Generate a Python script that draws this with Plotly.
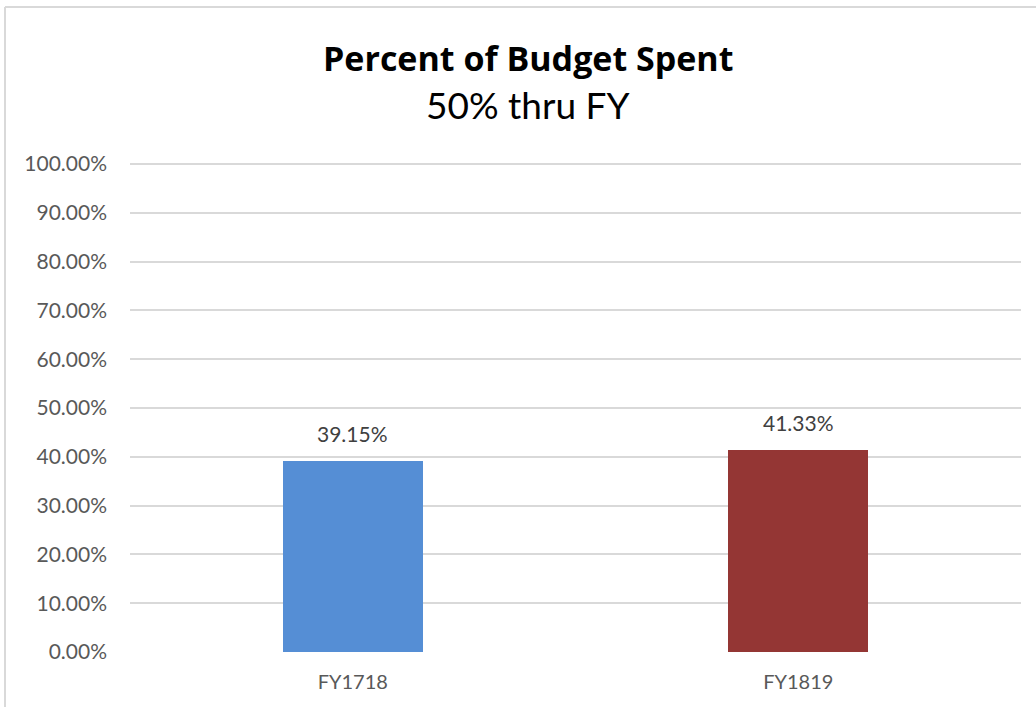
import plotly.graph_objects as go

categories = ["FY1718", "FY1819"]
values = [0.3915, 0.4133]
bar_colors = ["#558ED5", "#943634"]
tick_vals = [i / 10 for i in range(11)]
tick_text = [f"{v*100:.2f}%" for v in tick_vals]
title_text = "Percent of Budget Spent"
subtitle_text = "50% thru FY"

W, H = 1036, 707
YMAX = 1.004
L, R, B = 130, 15, 55
PH = round(488 * YMAX)
T = H - B - PH
PW = W - L - R
FONT = "Lato"

def px_x(px):
    return (px - L) / PW

def px_y(py):
    return (H - B - py) / PH

fig = go.Figure()
fig.add_trace(go.Bar(
    x=categories, y=values,
    marker=dict(color=bar_colors, line=dict(width=0)),
    width=0.314,
    hoverinfo="skip",
))

annotations = []
for c, v in zip(categories, values):
    annotations.append(dict(
        x=c, y=v, xref="x", yref="y", text=f"{v*100:.2f}%",
        showarrow=False, yanchor="bottom", yshift=13,
        font=dict(family=FONT, size=21, color="#404040"),
    ))
annotations.append(dict(
    x=px_x(528), y=px_y(58), xref="paper", yref="paper",
    text=f"<b>{title_text}</b>", showarrow=False, xanchor="center", yanchor="middle",
    font=dict(family="Open Sans", size=34, color="#000000"),
))
annotations.append(dict(
    x=px_x(528), y=px_y(105), xref="paper", yref="paper",
    text=subtitle_text, showarrow=False, xanchor="center", yanchor="middle",
    font=dict(family=FONT, size=37, color="#000000"),
))

shapes = [
    dict(type="line", xref="paper", yref="paper",
         x0=px_x(5), x1=px_x(5), y0=px_y(7), y1=px_y(720),
         line=dict(color="#D9D9D9", width=2)),
    dict(type="line", xref="paper", yref="paper",
         x0=px_x(5), x1=px_x(1050), y0=px_y(7), y1=px_y(7),
         line=dict(color="#D9D9D9", width=2)),
]

fig.update_layout(
    width=W, height=H,
    margin=dict(l=L, r=R, t=T, b=B),
    paper_bgcolor="white", plot_bgcolor="white",
    showlegend=False,
    annotations=annotations,
    shapes=shapes,
    bargap=0,
    xaxis=dict(
        type="category", showgrid=False, zeroline=False, showline=False,
        ticks="", tickfont=dict(family=FONT, size=20, color="#595959"),
        ticklabelstandoff=16,
    ),
    yaxis=dict(
        range=[0, YMAX], tickvals=tick_vals, ticktext=tick_text,
        showgrid=True, gridcolor="#D9D9D9", gridwidth=1.5,
        zeroline=False, showline=False, ticks="",
        tickfont=dict(family=FONT, size=21, color="#595959"),
        ticklabelstandoff=22,
    ),
)

fig.write_html("out.html")
